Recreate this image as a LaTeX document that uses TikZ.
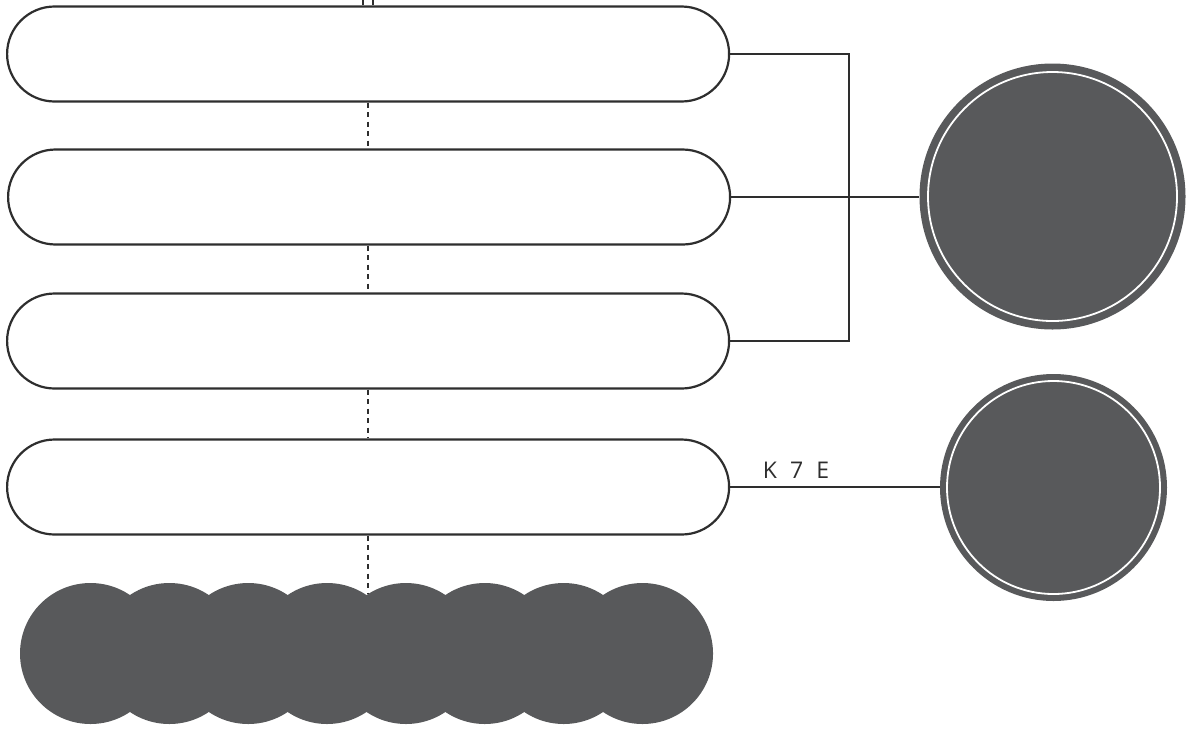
\documentclass[tikz,border=0pt]{standalone}
\usepackage{fontspec}
\setmainfont{Open Sans}
\definecolor{fillgrey}{HTML}{58595B}
\definecolor{linegrey}{HTML}{2E2E2E}
\begin{document}
\begin{tikzpicture}[x=1pt,y=-1pt,
  pill/.style={draw=linegrey,line width=2.2pt,fill=white,rectangle,rounded corners=47.5pt,
     minimum width=722pt,minimum height=95pt,inner sep=0pt,anchor=west},
  bigdisc/.style={circle,fill=fillgrey,inner sep=0pt},
  conn/.style={draw=linegrey,line width=2.2pt},
  dotconn/.style={draw=linegrey,line width=2.2pt,dash pattern=on 5pt off 4.5pt},
  ring/.style={draw=white,line width=1.8pt},
  lbl/.style={font=\fontsize{23}{27}\selectfont,text=linegrey,inner sep=0pt,anchor=base}
]
\useasboundingbox (0,0) rectangle (1193,729);
% bottom overlapping discs
\foreach \i in {0,...,7}{
  \node[bigdisc,minimum size=141pt] (b\i) at ({90.5+78.86*\i},653.5) {};
}
% pills
\node[pill] (p1) at (6,54) {};
\node[pill] (p2) at (7,197) {};
\node[pill] (p3) at (6,341) {};
\node[pill] (p4) at (6,487) {};
% right discs
\node[bigdisc,minimum size=266pt] (c1) at (1052.5,196.5) {};
\draw[ring] (c1.center) circle (124.5);
\node[bigdisc,minimum size=227pt] (c2) at (1053.5,487.5) {};
\draw[ring] (c2.center) circle (106.5);
% top stubs
\coordinate (t1) at (363,0);
\coordinate (t2) at (373,0);
\draw[draw=linegrey,line width=1.6pt] (t1) -- (t1 |- p1.north);
\draw[draw=linegrey,line width=1.6pt] (t2) -- (t2 |- p1.north);
% dashed spine
\coordinate (sp) at (368,0);
\draw[dotconn] (sp |- p1.south) -- (sp |- p2.north);
\draw[dotconn] (sp |- p2.south) -- (sp |- p3.north);
\draw[dotconn] (sp |- p3.south) -- (sp |- p4.north);
\coordinate (notch) at (368,594);
\draw[dotconn] (sp |- p4.south) -- (notch);
% bracket connector
\coordinate (bus) at (849,0);
\draw[conn] (p1.east) -- (p1.east -| bus) -- (p3.east -| bus) -- (p3.east);
\draw[conn] (p2.east) -- (p2.east -| c1.west);
\draw[conn] (p4.east) -- (p4.east -| c2.west);
\node[lbl] (k7e) at (796,478) {K\hspace{13pt}7\hspace{13pt}E};
\end{tikzpicture}
\end{document}
